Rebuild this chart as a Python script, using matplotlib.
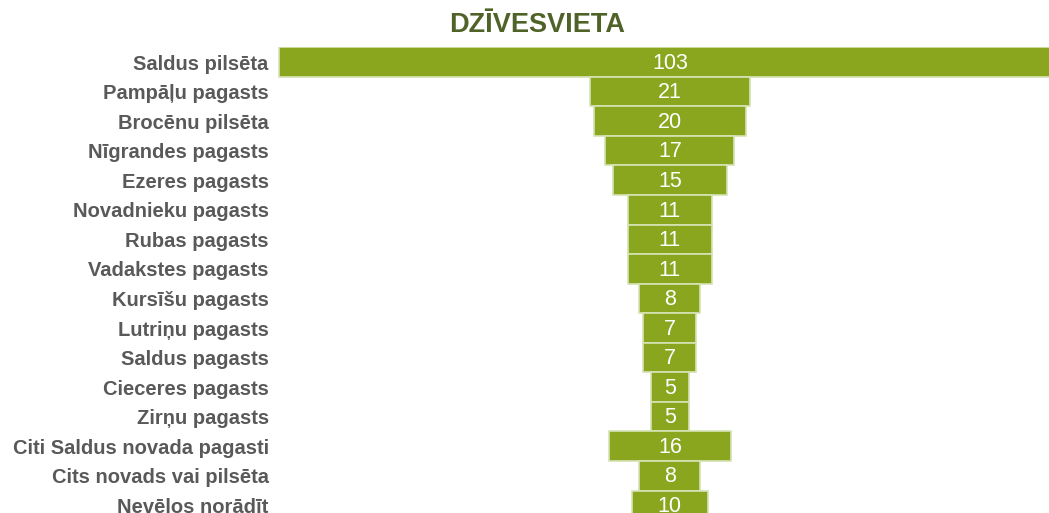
import matplotlib.pyplot as plt
import numpy as np

# data
places = ['Saldus pilsēta', 'Pampāļu pagasts', 'Brocēnu pilsēta', 'Nīgrandes pagasts',
          'Ezeres pagasts', 'Novadnieku pagasts', 'Rubas pagasts', 'Vadakstes pagasts',
          'Kursīšu pagasts', 'Lutriņu pagasts', 'Saldus pagasts', 'Cieceres pagasts',
          'Zirņu pagasts', 'Citi Saldus novada pagasti', 'Cits novads vai pilsēta',
          'Nevēlos norādīt']
counts = [103, 21, 20, 17, 15, 11, 11, 11, 8, 7, 7, 5, 5, 16, 8, 10]

plt.rcParams['font.family'] = ['Liberation Sans', 'DejaVu Sans']

fig = plt.figure(figsize=(10.49, 5.13), dpi=100)
ax = fig.add_axes([277 / 1049, 0, 1 - 277 / 1049, (513 - 47) / 513])

vals = np.array(counts, dtype=float)
ypos = np.arange(len(vals))
ax.barh(ypos, vals, left=-vals / 2, height=1.0, color='#8aa61f',
        edgecolor='#d6e3b5', linewidth=1.2)

for y, v in zip(ypos, counts):
    ax.text(0, y + 0.04, str(v), ha='center', va='center', color='white', fontsize=15.5)

ax.set_xlim(-51.7, 49.9)
ax.set_ylim(15.26, -0.51)
ax.set_yticks(ypos)
ax.set_yticklabels(places, fontsize=14.5, fontweight='bold', color='#595959')
ax.tick_params(axis='y', length=0, pad=6)
ax.set_xticks([])
for s in ax.spines.values():
    s.set_visible(False)

fig.text(537 / 1049, 1 - 25 / 513, 'DZĪVESVIETA', ha='center', va='center',
         fontsize=19.5, fontweight='bold', color='#4f6228')

fig.savefig('out.png', dpi=100)
